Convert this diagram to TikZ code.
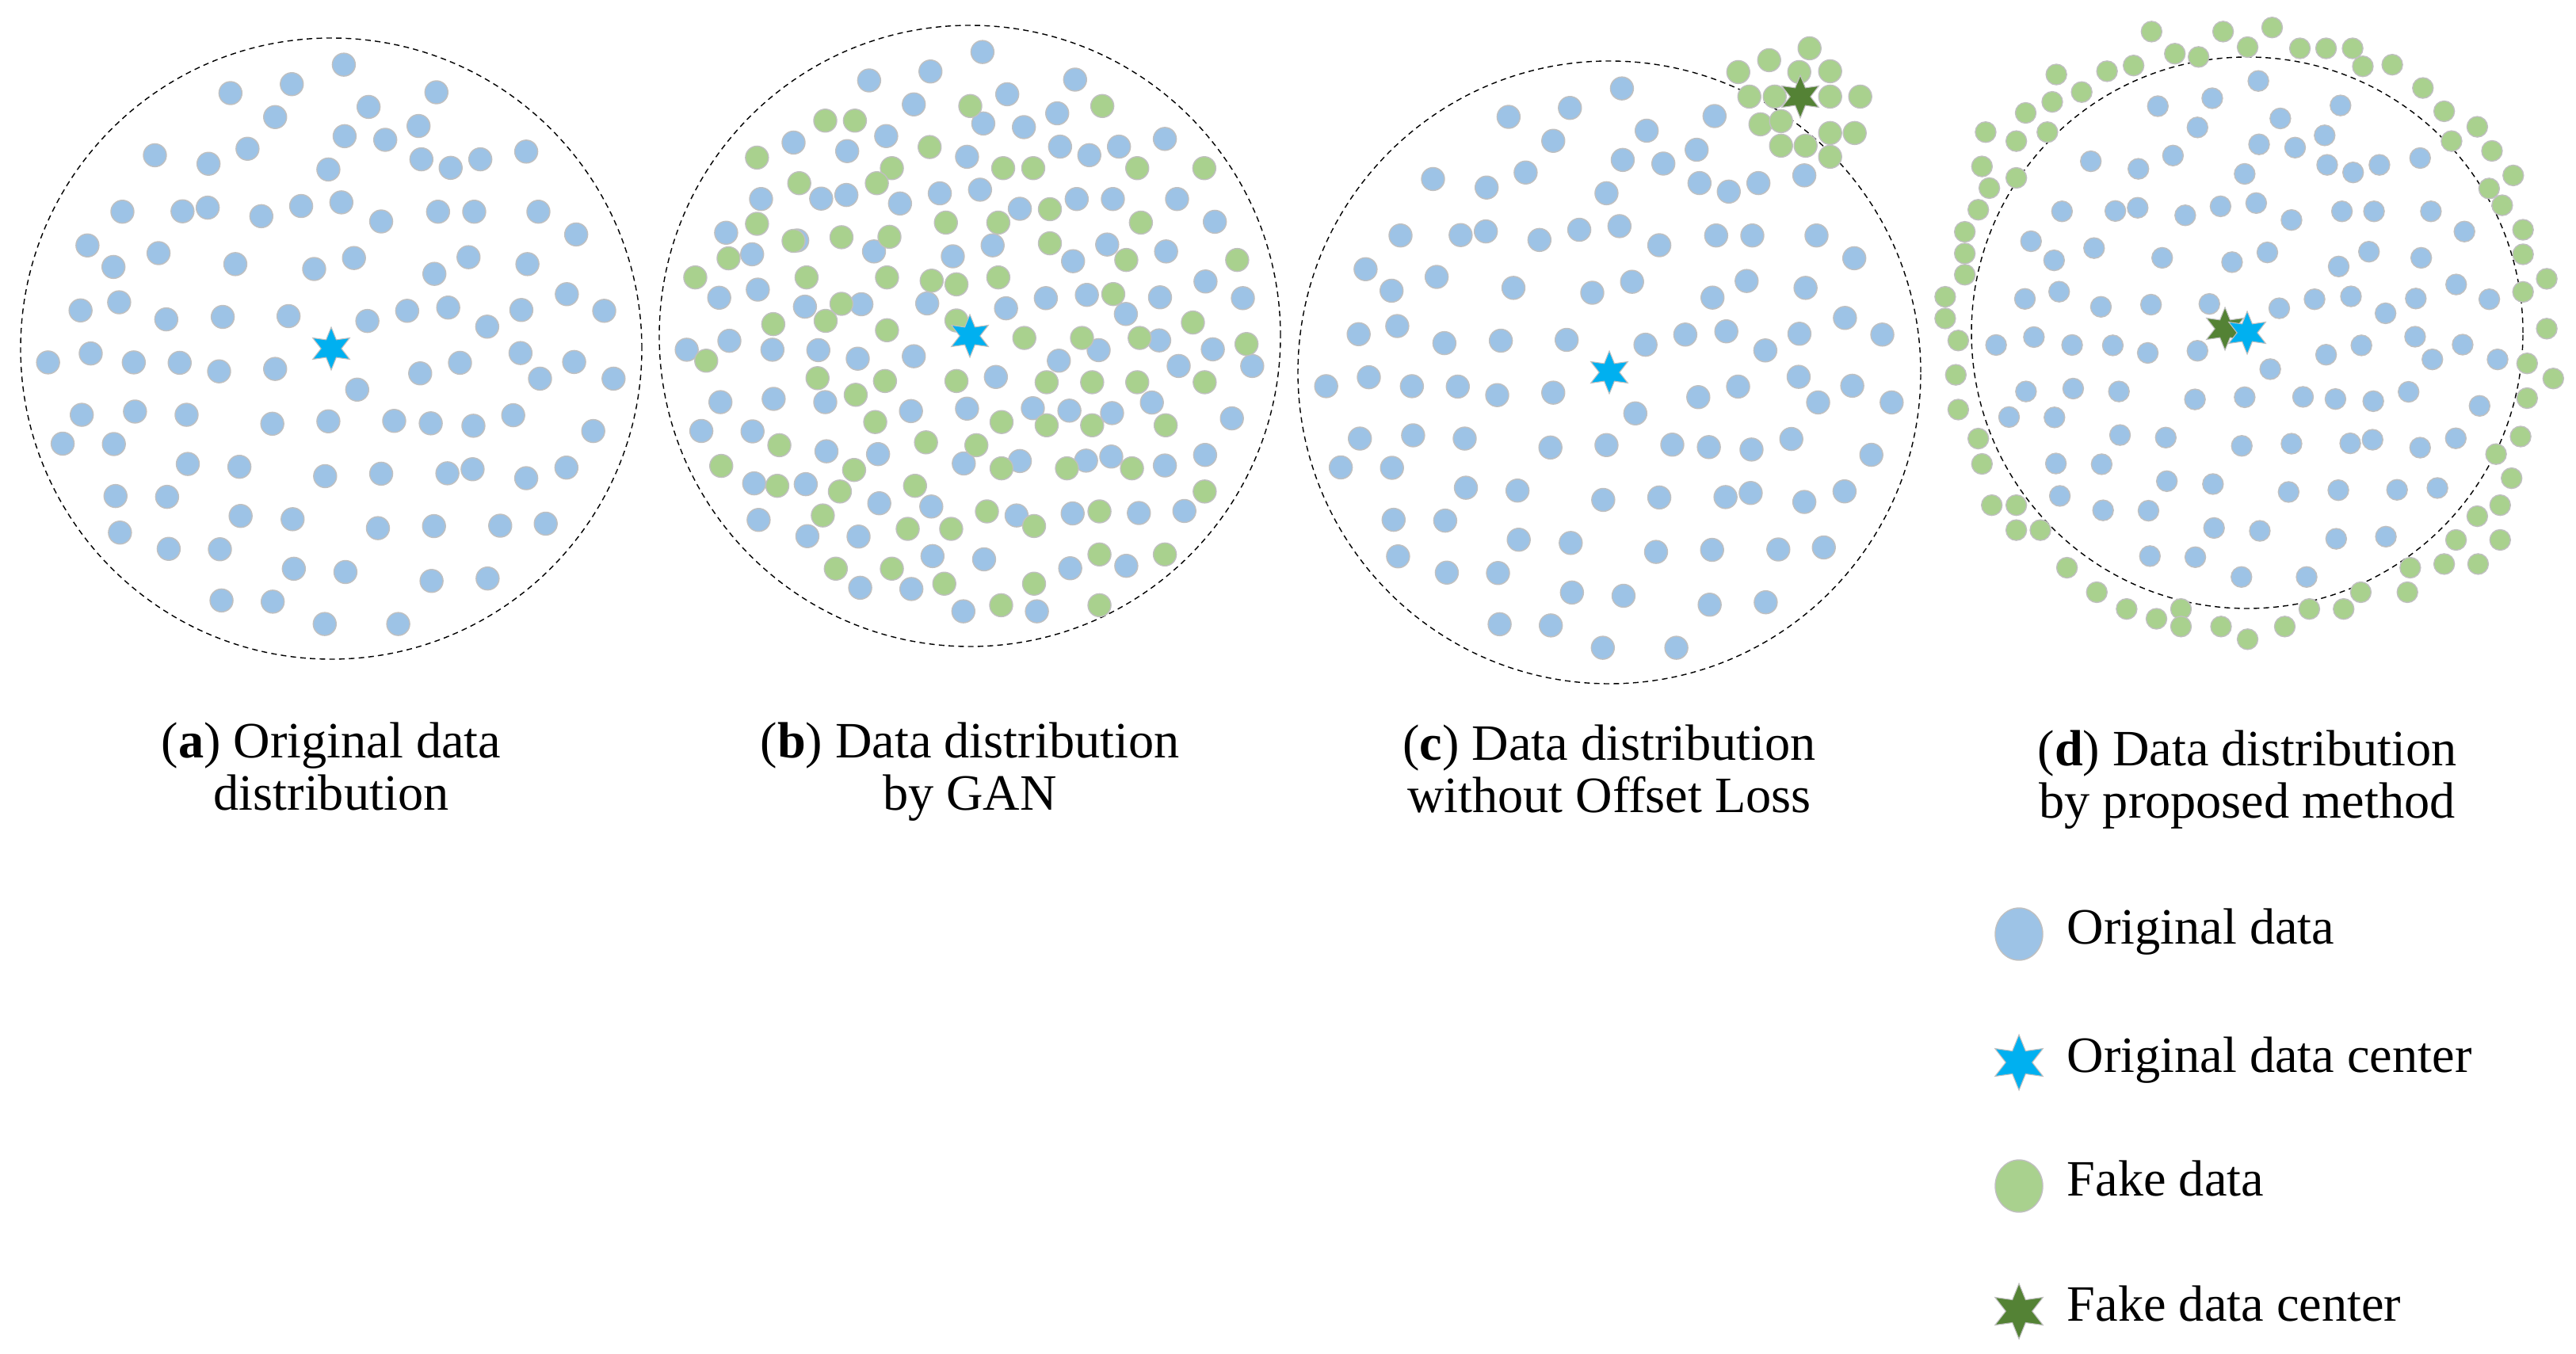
\documentclass[tikz,border=0pt]{standalone}
\usepackage{fontspec}
\setmainfont{Liberation Serif}
\usetikzlibrary{positioning,shapes.geometric}

\definecolor{origblue}{HTML}{9DC3E6}
\definecolor{fakegreen}{HTML}{A9D18E}
\definecolor{centerblue}{HTML}{00B0F0}
\definecolor{centergreen}{HTML}{548235}
\definecolor{rimgray}{HTML}{C0C0C0}

% original samples (pixel grid, centre 779/779, radius 765)
\newcommand{\origpts}{810/80, 682/128, 531/150, 1038/148, 871/184, 641/209, 994/231, 812/256, 912/265, 345/303, 573/287, 477/324, 1001/313, 1073/334, 1146/313, 1259/294, 772/338, 265/442, 413/441, 475/432, 607/453, 705/428, 804/419, 902/466, 1042/442, 1131/442, 1289/442, 1382/498, 179/525, 354/544, 243/578, 543/571, 737/583, 835/556, 1033/595, 1117/554, 1262/571, 1359/645, 162/685, 257/665, 373/707, 512/701, 674/699, 868/711, 966/686, 1067/678, 1163/725, 1247/684, 1451/686, 82/813, 187/791, 293/813, 406/814, 503/835, 641/829, 843/880, 998/840, 1096/814, 1245/790, 1377/812, 1293/853, 1474/853, 165/942, 296/934, 423/942, 634/964, 772/958, 934/957, 1024/963, 1129/969, 1227/943, 1424/982, 118/1013, 244/1014, 426/1063, 553/1070, 764/1093, 902/1087, 1065/1086, 1127/1076, 1259/1098, 1358/1072, 248/1142, 375/1144, 556/1191, 684/1199, 894/1221, 1032/1216, 1195/1215, 1307/1210, 259/1232, 379/1272, 505/1273, 687/1321, 814/1329, 1026/1351, 1164/1345, 509/1399, 635/1402, 763/1457, 944/1457}
% GAN samples (same grid, centre 779/746)
\newcommand{\ganpts}{780/180, 1105/180, 423/216, 496/216, 255/307, 680/281, 587/333, 550/370, 359/370, 861/333, 935/333, 1191/333, 1356/333, 255/470, 720/467, 849/467, 976/434, 1200/467, 345/512, 463/503, 581/502, 976/518, 185/555, 1164/559, 1437/559, 103/602, 377/602, 575/602, 685/610, 746/619, 849/602, 463/667, 1132/643, 295/717, 424/709, 575/732, 746/708, 1328/713, 913/751, 1055/751, 1197/751, 1460/766, 130/807, 404/850, 570/857, 746/857, 968/860, 1080/860, 1191/860, 1357/860, 498/891, 546/958, 857/958, 968/966, 1080/966, 1261/966, 310/1015, 671/1008, 795/1015, 167/1066, 494/1076, 857/1072, 1018/1072, 1178/1072, 305/1115, 459/1129, 644/1115, 1357/1129, 417/1188, 821/1178, 937/1214, 1098/1178, 626/1221, 733/1221, 449/1319, 587/1319, 1098/1284, 1259/1284, 716/1356, 937/1356, 856/1409, 1098/1409}
% collapsed samples (absolute pixels)
\newcommand{\lumppts}{2285/61, 2234/76, 2195/91, 2272/91, 2311/90, 2209/122, 2241/122, 2311/122, 2349/122, 2223/157, 2249/153, 2311/168, 2342/168, 2249/184, 2280/184, 2311/198}
% ring samples (centre 773/780, radius 675)
\newcommand{\ringpts}{539/43, 714/43, 834/33, 596/97, 654/105, 774/81, 902/84, 966/84, 1031/84, 1056/128, 1128/124, 495/126, 430/140, 306/148, 368/191, 296/215, 231/242, 133/289, 208/311, 284/289, 1203/181, 1255/238, 1336/276, 1273/311, 1372/335, 124/373, 208/401, 142/426, 1424/395, 1365/427, 1397/468, 115/479, 82/533, 82/586, 82/638, 1448/528, 1448/588, 1506/648, 1448/680, 34/692, 34/745, 66/799, 1506/770, 60/883, 1458/855, 1522/892, 66/968, 1458/940, 115/1039, 124/1101, 1442/1034, 1382/1077, 1420/1136, 148/1202, 208/1202, 208/1263, 267/1263, 1392/1202, 1336/1229, 1284/1287, 1392/1287, 1255/1346, 1338/1346, 332/1355, 1172/1355, 1165/1415, 405/1415, 1051/1415, 478/1456, 551/1480, 611/1456, 611/1499, 709/1499, 774/1530, 865/1499, 925/1456, 1009/1456}

\begin{document}
\begin{tikzpicture}[
      orig/.style={fill=origblue, draw=rimgray, line width=0.4pt},
      fake/.style={fill=fakegreen, draw=rimgray, line width=0.4pt},
      hub/.style={
          star,
          star points=6,
          star point ratio=2.1,
          minimum size=0.54cm,
          inner sep=0pt,
          draw=rimgray,
          line width=0.3pt
        },
      bound/.style={draw=black, dash pattern=on 2pt off 1.5pt, line width=0.4pt},
      caption/.style={align=center, anchor=base, font=\fontsize{18.3}{18.6}\selectfont},
      legend/.style={anchor=west, text height=0.7em, text depth=0pt, inner sep=0pt,
          font=\fontsize{18.3}{18.6}\selectfont}
    ]
    \useasboundingbox (0,0) rectangle (32.51,17.08);

    % (a) original data
    \draw[bound] (4.18,12.68) circle[radius=3.92];
    \begin{scope}[shift={(4.18,12.68)}, x=0.005124cm, y=-0.005124cm]
      \foreach \px/\py in \origpts
        \path[orig] ({\px-779},{\py-779}) circle[radius=0.145cm];
    \end{scope}
    \node[hub, fill=centerblue] (ctra) at (4.18,12.68) {};
    \node[caption] (capa) at (4.18,6.86) {(\textbf{a}) Original data\\distribution};

    % (b) GAN
    \draw[bound] (12.24,12.84) circle[radius=3.92];
    \begin{scope}[shift={(12.24,12.84)}, x=0.005124cm, y=-0.005124cm]
      \foreach \px/\py in \origpts
        \path[orig] ({\px-779},{\py-779}) circle[radius=0.145cm];
      \foreach \px/\py in \ganpts
        \path[fake] ({\px-779},{\py-746}) circle[radius=0.145cm];
    \end{scope}
    \node[hub, fill=centerblue] (ctrb) at (12.24,12.84) {};
    \node[caption] (capb) at (12.24,6.86) {(\textbf{b}) Data distribution\\by GAN};

    % (c) no offset loss
    \draw[bound] (20.31,12.38) circle[radius=3.93];
    \begin{scope}[shift={(20.31,12.38)}, x=0.005124cm, y=-0.005124cm]
      \foreach \px/\py in \origpts
        \path[orig] ({\px-779},{\py-779}) circle[radius=0.145cm];
    \end{scope}
    \begin{scope}[shift={(0,17.08)}, x=0.01cm, y=-0.01cm]
      \foreach \px/\py in \lumppts
        \path[fake] (\px,\py) circle[radius=0.145cm];
    \end{scope}
    \node[hub, fill=centerblue] (ctrc) at (20.31,12.38) {};
    \node[hub, fill=centergreen] (fakec) at (22.72,15.86) {};
    \node[caption] (capc) at (20.31,6.83) {(\textbf{c}) Data distribution\\without Offset Loss};

    % (d) proposed
    \draw[bound] (28.36,12.88) circle[radius=3.48];
    \begin{scope}[shift={(28.36,12.88)}, x=0.004549cm, y=-0.004549cm]
      \foreach \px/\py in \origpts
        \path[orig] ({\px-779},{\py-779}) circle[radius=0.13cm];
    \end{scope}
    \begin{scope}[shift={(28.36,12.88)}, x=0.005156cm, y=-0.005156cm]
      \foreach \px/\py in \ringpts
        \path[fake] ({\px-773},{\py-780}) circle[radius=0.13cm];
    \end{scope}
    \node[hub, fill=centergreen] (faked) at (28.08,12.93) {};
    \node[hub, fill=centerblue] (ctrd) at (28.36,12.88) {};
    \node[caption] (capd) at (28.36,6.76) {(\textbf{d}) Data distribution\\by proposed method};

    % legend
    \node[ellipse, orig, minimum width=0.6cm, minimum height=0.66cm, inner sep=0pt] (korig) at (25.48,5.29) {};
    \node[hub, fill=centerblue, minimum size=0.70cm] (kctr) at (25.48,3.67) {};
    \node[ellipse, fake, minimum width=0.6cm, minimum height=0.66cm, inner sep=0pt] (kfake) at (25.48,2.11) {};
    \node[hub, fill=centergreen, minimum size=0.70cm] (kfctr) at (25.48,0.53) {};
    \node[legend, right=0.6cm of korig.center] (torig) {Original data};
    \node[legend, right=0.6cm of kctr.center] (tctr) {Original data center};
    \node[legend, right=0.6cm of kfake.center] (tfake) {Fake data};
    \node[legend, right=0.6cm of kfctr.center] (tfctr) {Fake data center};
  \end{tikzpicture}
\end{document}
